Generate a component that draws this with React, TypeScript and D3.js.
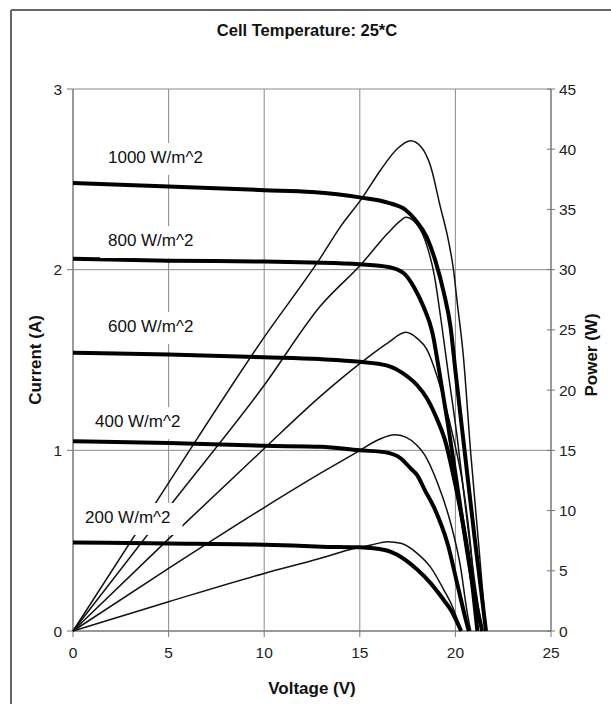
import React from 'react';
import * as d3 from 'd3';

// irradiance levels, top to bottom
const irradianceLabels = ['1000 W/m^2', '800 W/m^2', '600 W/m^2', '400 W/m^2', '200 W/m^2'];

// I-V curves: [voltage (V), current (A)]
const current1000 = [[0, 2.48], [5, 2.46], [10, 2.44], [12.5, 2.43], [15, 2.4], [16.5, 2.37], [17.4, 2.33], [17.95, 2.27], [18.5, 2.18], [18.95, 2.05], [19.4, 1.87], [19.75, 1.68], [20.0, 1.44], [20.5, 0.98], [21.0, 0.52], [21.35, 0.22], [21.6, 0]];
const current800 = [[0, 2.06], [5, 2.05], [10, 2.045], [12.5, 2.04], [15, 2.03], [16.5, 2.015], [17.3, 1.98], [17.85, 1.9], [18.35, 1.79], [18.8, 1.65], [19.15, 1.44], [19.6, 1.15], [20.1, 0.8], [20.6, 0.45], [21.0, 0.2], [21.4, 0]];
const current600 = [[0, 1.54], [5, 1.53], [10, 1.515], [12.9, 1.505], [15, 1.49], [16.4, 1.47], [17.2, 1.43], [18.0, 1.36], [18.5, 1.29], [19.05, 1.17], [19.5, 1.04], [19.75, 0.93], [20.35, 0.62], [20.8, 0.33], [21.15, 0]];
const current400 = [[0, 1.05], [5, 1.04], [10, 1.025], [13, 1.02], [15, 1.0], [16.3, 0.99], [17.15, 0.955], [17.66, 0.9], [18.0, 0.863], [18.4, 0.78], [18.9, 0.68], [19.6, 0.48], [20.1, 0.26], [20.55, 0.06], [20.7, 0]];
const current200 = [[0, 0.49], [5, 0.485], [10, 0.478], [13, 0.467], [15, 0.463], [16.3, 0.448], [17.15, 0.41], [18.0, 0.34], [18.7, 0.265], [19.4, 0.17], [19.8, 0.11], [20.3, 0]];

// P-V curves: [voltage (V), power (W)]
const power1000 = [[0, 0], [5, 12.3], [10, 24.4], [12.95, 31.0], [14, 33.6], [15.1, 35.9], [16.1, 38.3], [17.0, 40.1], [17.66, 40.7], [18.2, 40.2], [18.7, 38.6], [19.2, 35.3], [19.65, 32.3], [19.9, 30.0], [20.1, 27.2], [20.4, 23.1], [20.8, 14.8], [21.2, 7.5], [21.6, 0]];
const power800 = [[0, 0], [5, 10.25], [10, 20.4], [12.95, 27.0], [15.1, 30.5], [16.45, 33.0], [17.15, 34.1], [17.4, 34.35], [17.85, 34.0], [18.4, 32.5], [18.9, 29.5], [19.25, 25.8], [19.6, 21.7], [20.1, 16.0], [20.6, 9.3], [21.0, 4.2], [21.4, 0]];
const power600 = [[0, 0], [5, 7.65], [10, 15.15], [12.95, 19.5], [15, 22.2], [16.45, 23.9], [17.4, 24.8], [18.0, 24.3], [18.5, 23.4], [19.05, 21.1], [19.5, 18.6], [19.9, 16.0], [20.35, 12.5], [20.8, 7.0], [21.15, 0]];
const power400 = [[0, 0], [5, 5.2], [10, 10.25], [12.95, 13.1], [14.9, 14.9], [16.0, 15.9], [16.8, 16.3], [17.4, 16.1], [18.0, 15.4], [18.4, 14.6], [19.06, 12.3], [19.76, 8.9], [20.27, 5.3], [20.6, 1.7], [20.8, 0]];
const power200 = [[0, 0], [5, 2.43], [10, 4.78], [12.95, 6.04], [14.7, 6.85], [15.6, 7.14], [16.45, 7.42], [17.15, 7.28], [18.0, 6.45], [18.7, 5.3], [19.4, 3.4], [19.85, 2.0], [20.3, 0]];

// tick labels
const voltageTicks = [0, 5, 10, 15, 20, 25];
const currentTicks = [0, 1, 2, 3];
const powerTicks = [0, 5, 10, 15, 20, 25, 30, 35, 40, 45];

const currents = [current1000, current800, current600, current400, current200];
const powers = [power1000, power800, power600, power400, power200];

// where each irradiance label sits, in data units (V, A)
const labelSpots = [[1.83, 2.624], [1.83, 2.164], [1.83, 1.688], [1.15, 1.162], [0.63, 0.631]];

const FONT = '"Liberation Sans", Arial, Helvetica, sans-serif';

const measure = (text: string, font: string) => {
  const ctx = document.createElement('canvas').getContext('2d');
  if (!ctx) return text.length * 9.4;
  ctx.font = font;
  return ctx.measureText(text).width;
};

const App = () => {
  const width = 611;
  const height = 704;

  const x = d3.scaleLinear().domain([0, 25]).range([73, 551]);
  const yI = d3.scaleLinear().domain([0, 3]).range([631, 89]);
  const yP = d3.scaleLinear().domain([0, 45]).range([631, 89]);

  const ivLine = d3
    .line<number[]>()
    .x(d => x(d[0]))
    .y(d => yI(d[1]))
    .curve(d3.curveMonotoneX);

  const pvLine = d3
    .line<number[]>()
    .x(d => x(d[0]))
    .y(d => yP(d[1]))
    .curve(d3.curveMonotoneX);

  const [x0, x1] = x.range();
  const [yBottom, yTop] = yI.range();
  const gridColor = '#8a8a8a';
  const labelFont = `17px ${FONT}`;

  return (
    <svg
      width={width}
      height={height}
      style={{ position: 'absolute', left: 0, top: 0, display: 'block', background: '#fff' }}
    >
      {/* outer frame */}
      <line x1={11} y1={10} x2={width} y2={10} stroke="#666" strokeWidth={2} />
      <line x1={11} y1={10} x2={11} y2={height} stroke="#666" strokeWidth={2} />

      {/* title */}
      <text x={307} y={36} textAnchor="middle" fontFamily={FONT} fontWeight="bold" fontSize={16.5} fill="#111">
        Cell Temperature: 25*C
      </text>

      {/* gridlines */}
      {voltageTicks.slice(1, -1).map(v => (
        <line key={'gv' + v} x1={x(v)} x2={x(v)} y1={yTop} y2={yBottom} stroke={gridColor} strokeWidth={1} />
      ))}
      {currentTicks.slice(1).map(c => (
        <line key={'gh' + c} x1={x0} x2={x1} y1={yI(c)} y2={yI(c)} stroke={gridColor} strokeWidth={1} />
      ))}

      {/* axes */}
      <line x1={x0} x2={x0} y1={yTop} y2={yBottom} stroke="#777" strokeWidth={1.5} />
      <line x1={x1} x2={x1} y1={yTop} y2={yBottom} stroke="#777" strokeWidth={1.5} />
      <line x1={x0} x2={x1} y1={yBottom} y2={yBottom} stroke="#777" strokeWidth={1.5} />

      {/* left ticks */}
      {currentTicks.map(c => (
        <g key={'lt' + c}>
          <line x1={x0 - 6} x2={x0} y1={yI(c)} y2={yI(c)} stroke="#777" strokeWidth={1} />
          <text x={x0 - 11} y={yI(c)} dy="0.36em" textAnchor="end" fontFamily={FONT} fontSize={15.5} fill="#222">
            {c}
          </text>
        </g>
      ))}
      {/* bottom ticks */}
      {voltageTicks.map(v => (
        <g key={'bt' + v}>
          <line x1={x(v)} x2={x(v)} y1={yBottom} y2={yBottom + 6} stroke="#777" strokeWidth={1} />
          <text x={x(v)} y={yBottom + 21} dy="0.36em" textAnchor="middle" fontFamily={FONT} fontSize={15.5} fill="#222">
            {v}
          </text>
        </g>
      ))}
      {/* right ticks */}
      {powerTicks.map(p => (
        <g key={'rt' + p}>
          <line x1={x1 - 4} x2={x1 + 4} y1={yP(p)} y2={yP(p)} stroke="#777" strokeWidth={1} />
          <text x={x1 + 8} y={yP(p)} dy="0.36em" textAnchor="start" fontFamily={FONT} fontSize={15.5} fill="#222">
            {p}
          </text>
        </g>
      ))}

      {/* axis titles */}
      <text x={312} y={688} dy="0.36em" textAnchor="middle" fontFamily={FONT} fontWeight="bold" fontSize={17} fill="#111">
        Voltage (V)
      </text>
      <text
        transform={`translate(35, 360) rotate(-90)`}
        dy="0.36em"
        textAnchor="middle"
        fontFamily={FONT}
        fontWeight="bold"
        fontSize={17}
        fill="#111"
      >
        Current (A)
      </text>
      <text
        transform={`translate(591, 355) rotate(-90)`}
        dy="0.36em"
        textAnchor="middle"
        fontFamily={FONT}
        fontWeight="bold"
        fontSize={17}
        fill="#111"
      >
        Power (W)
      </text>

      {/* power curves */}
      {powers.map((p, i) => (
        <path key={'pv' + i} d={pvLine(p) || ''} fill="none" stroke="#111" strokeWidth={1.5} />
      ))}
      {/* current curves */}
      {currents.map((c, i) => (
        <path
          key={'iv' + i}
          d={ivLine(c) || ''}
          fill="none"
          stroke="#000"
          strokeWidth={4}
          strokeLinejoin="round"
          strokeLinecap="butt"
        />
      ))}

      {/* irradiance labels with white boxes */}
      {irradianceLabels.map((lab, i) => {
        const lx = x(labelSpots[i][0]);
        const ly = yI(labelSpots[i][1]);
        const w = measure(lab, labelFont);
        return (
          <g key={'lab' + i}>
            <rect x={lx - 8} y={ly - 14} width={w + 20} height={32} fill="#fff" />
            <text x={lx} y={ly} dy="0.36em" fontFamily={FONT} fontSize={17} fill="#111">
              {lab}
            </text>
          </g>
        );
      })}
    </svg>
  );
};

export default App;
